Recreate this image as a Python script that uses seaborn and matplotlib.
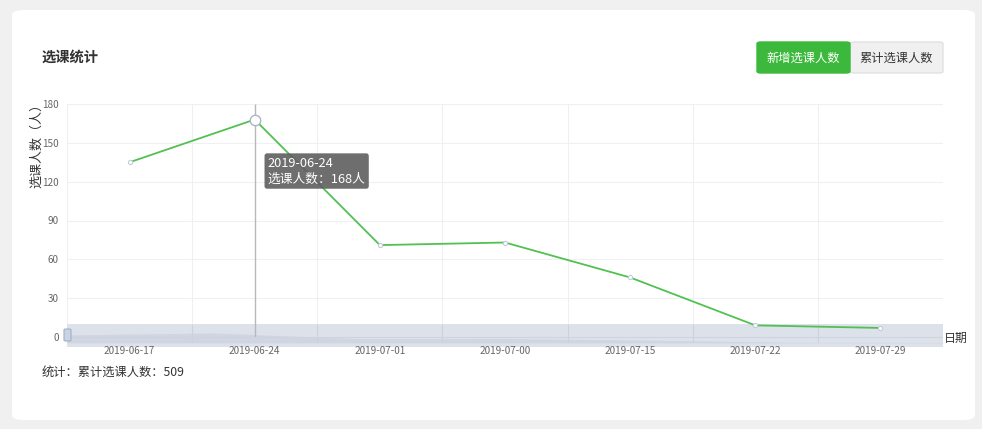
import matplotlib
matplotlib.use("Agg")
import matplotlib.pyplot as plt
import matplotlib.transforms as mtransforms
from matplotlib.patches import FancyBboxPatch
import pandas as pd
import seaborn as sns

# data
dates = ["2019-06-17", "2019-06-24", "2019-07-01", "2019-07-00",
         "2019-07-15", "2019-07-22", "2019-07-29"]
new_students = [135, 168, 71, 73, 46, 9, 7]
y_ticks = [0, 30, 60, 90, 120, 150, 180]
hover_idx = 1
total = sum(new_students)

W, H = 982, 429
sns.set_theme(style="white")
plt.rcParams["font.family"] = ["Noto Sans CJK SC", "DejaVu Sans"]


def fx(px):
    return px / W


def fy(py):
    return 1 - py / H


fig = plt.figure(figsize=(W / 100, H / 100), dpi=100, facecolor="#f0f0f0")

# white card
card = FancyBboxPatch((fx(12), fy(420)), fx(975) - fx(12), fy(10) - fy(420),
                      boxstyle="round,pad=0,rounding_size=0.012",
                      transform=fig.transFigure, facecolor="white",
                      edgecolor="none", zorder=-5)
fig.patches.append(card)

fig.text(fx(42), fy(58), "选课统计", fontsize=10.3, fontweight="bold",
         color="#333333", va="center", ha="left")

# toggle buttons
btn_green = FancyBboxPatch((fx(757), fy(73)), fx(850) - fx(757), fy(42) - fy(73),
                           boxstyle="round,pad=0,rounding_size=0.004",
                           transform=fig.transFigure, facecolor="#3cb93c",
                           edgecolor="#3cb93c", zorder=2)
btn_gray = FancyBboxPatch((fx(850), fy(73)), fx(943) - fx(850), fy(42) - fy(73),
                          boxstyle="round,pad=0,rounding_size=0.004",
                          transform=fig.transFigure, facecolor="#f0f0f0",
                          edgecolor="#e2e2e2", zorder=1)
fig.patches.extend([btn_gray, btn_green])
fig.text(fx(803.5), fy(58), "新增选课人数", fontsize=8.8, color="white",
         ha="center", va="center", zorder=3)
fig.text(fx(896.5), fy(58), "累计选课人数", fontsize=8.8, color="#333333",
         ha="center", va="center", zorder=3)

df = pd.DataFrame({"date": dates, "count": new_students})
df["pos"] = range(len(df))
bounds = [i - 0.5 for i in range(len(dates) + 1)]

# data-zoom band with shadow (drawn beneath the main axes)
zax = fig.add_axes([fx(67), fy(347), fx(943) - fx(67), fy(324) - fy(347)])
zax.set_zorder(0)
zax.set_facecolor("#dce1ea")
zax.fill_between(df["pos"], 0, df["count"], color="#cfd6e1", lw=0)
zax.set_xlim(0, len(dates) - 1)
zax.set_ylim(-70, 320)
zax.set_xticks([])
zax.set_yticks([])
for s in zax.spines.values():
    s.set_visible(False)

# main axes
ax = fig.add_axes([fx(67), fy(337), fx(943) - fx(67), fy(104) - fy(337)])
ax.set_zorder(1)
ax.patch.set_visible(False)

ax.set_xlim(-0.5, len(dates) - 0.5)
ax.set_ylim(0, 180)
ax.set_yticks(y_ticks)
ax.set_xticks(df["pos"])
ax.set_xticklabels(dates)
for s in ax.spines.values():
    s.set_visible(False)
ax.tick_params(axis="both", which="both", length=0, labelsize=7.2,
               labelcolor="#666666")
ax.tick_params(axis="x", pad=6.2)
ax.tick_params(axis="y", pad=6)

# grid: light lines in the plot area, slightly darker ones through the band
band_top = 180 * (337 - 324) / (337 - 104)
ax.hlines(y_ticks[1:], -0.5, len(dates) - 0.5, color="#eef0f4", lw=0.8, zorder=0)
ax.vlines(bounds, band_top, 180, color="#eef0f4", lw=0.8, zorder=0)
tr_v = mtransforms.blended_transform_factory(ax.transData, zax.transAxes)
tr_h = mtransforms.blended_transform_factory(zax.transAxes, ax.transData)
for b in bounds[1:-1]:
    zax.plot([b, b], [0.22, 1], color="#cbd2dc", lw=0.8, transform=tr_v)
zax.plot([0, 1], [0, 0], color="#cdd4de", lw=0.8, transform=tr_h)

ax.vlines(hover_idx, 0, 180, color="#b8b8b8", lw=1, zorder=1)

sns.lineplot(data=df, x="pos", y="count", ax=ax, color="#52c152", lw=1.3,
             marker="o", markersize=3, markerfacecolor="white",
             markeredgecolor="#c3cbdb", markeredgewidth=0.8, zorder=3)
ax.plot(df["pos"][hover_idx], df["count"][hover_idx], marker="o",
        markersize=7.5, markerfacecolor="white", markeredgecolor="#aab4c8",
        markeredgewidth=1, zorder=4, clip_on=False)
ax.set_xlabel("")
ax.set_ylabel("")

ax.annotate(f"{dates[hover_idx]}\n选课人数：{new_students[hover_idx]}人",
            xy=(hover_idx, new_students[hover_idx]),
            xytext=(13, -37), textcoords="offset pixels",
            ha="left", va="top", fontsize=9.2, color="white",
            linespacing=1.3, zorder=6,
            bbox=dict(boxstyle="round,pad=0.25,rounding_size=0.2",
                      facecolor="#5e5e5e", alpha=0.9, edgecolor="none"))

handle = FancyBboxPatch((fx(64), fy(341)), fx(71) - fx(64), fy(329) - fy(341),
                        boxstyle="round,pad=0,rounding_size=0.002",
                        transform=fig.transFigure, facecolor="#c9d3e3",
                        edgecolor="#9fb0c8", lw=0.8, zorder=5)
fig.patches.append(handle)

fig.text(fx(37), fy(142), "选课人数（人）", rotation=90, fontsize=9.4,
         color="#333333", ha="center", va="center")
fig.text(fx(944), fy(338), "日期", fontsize=8.6, color="#333333",
         ha="left", va="center")
fig.text(fx(42), fy(372), f"统计：累计选课人数：{total}", fontsize=8.8,
         color="#333333", ha="left", va="center")

fig.savefig("out.png", dpi=100, facecolor=fig.get_facecolor())
